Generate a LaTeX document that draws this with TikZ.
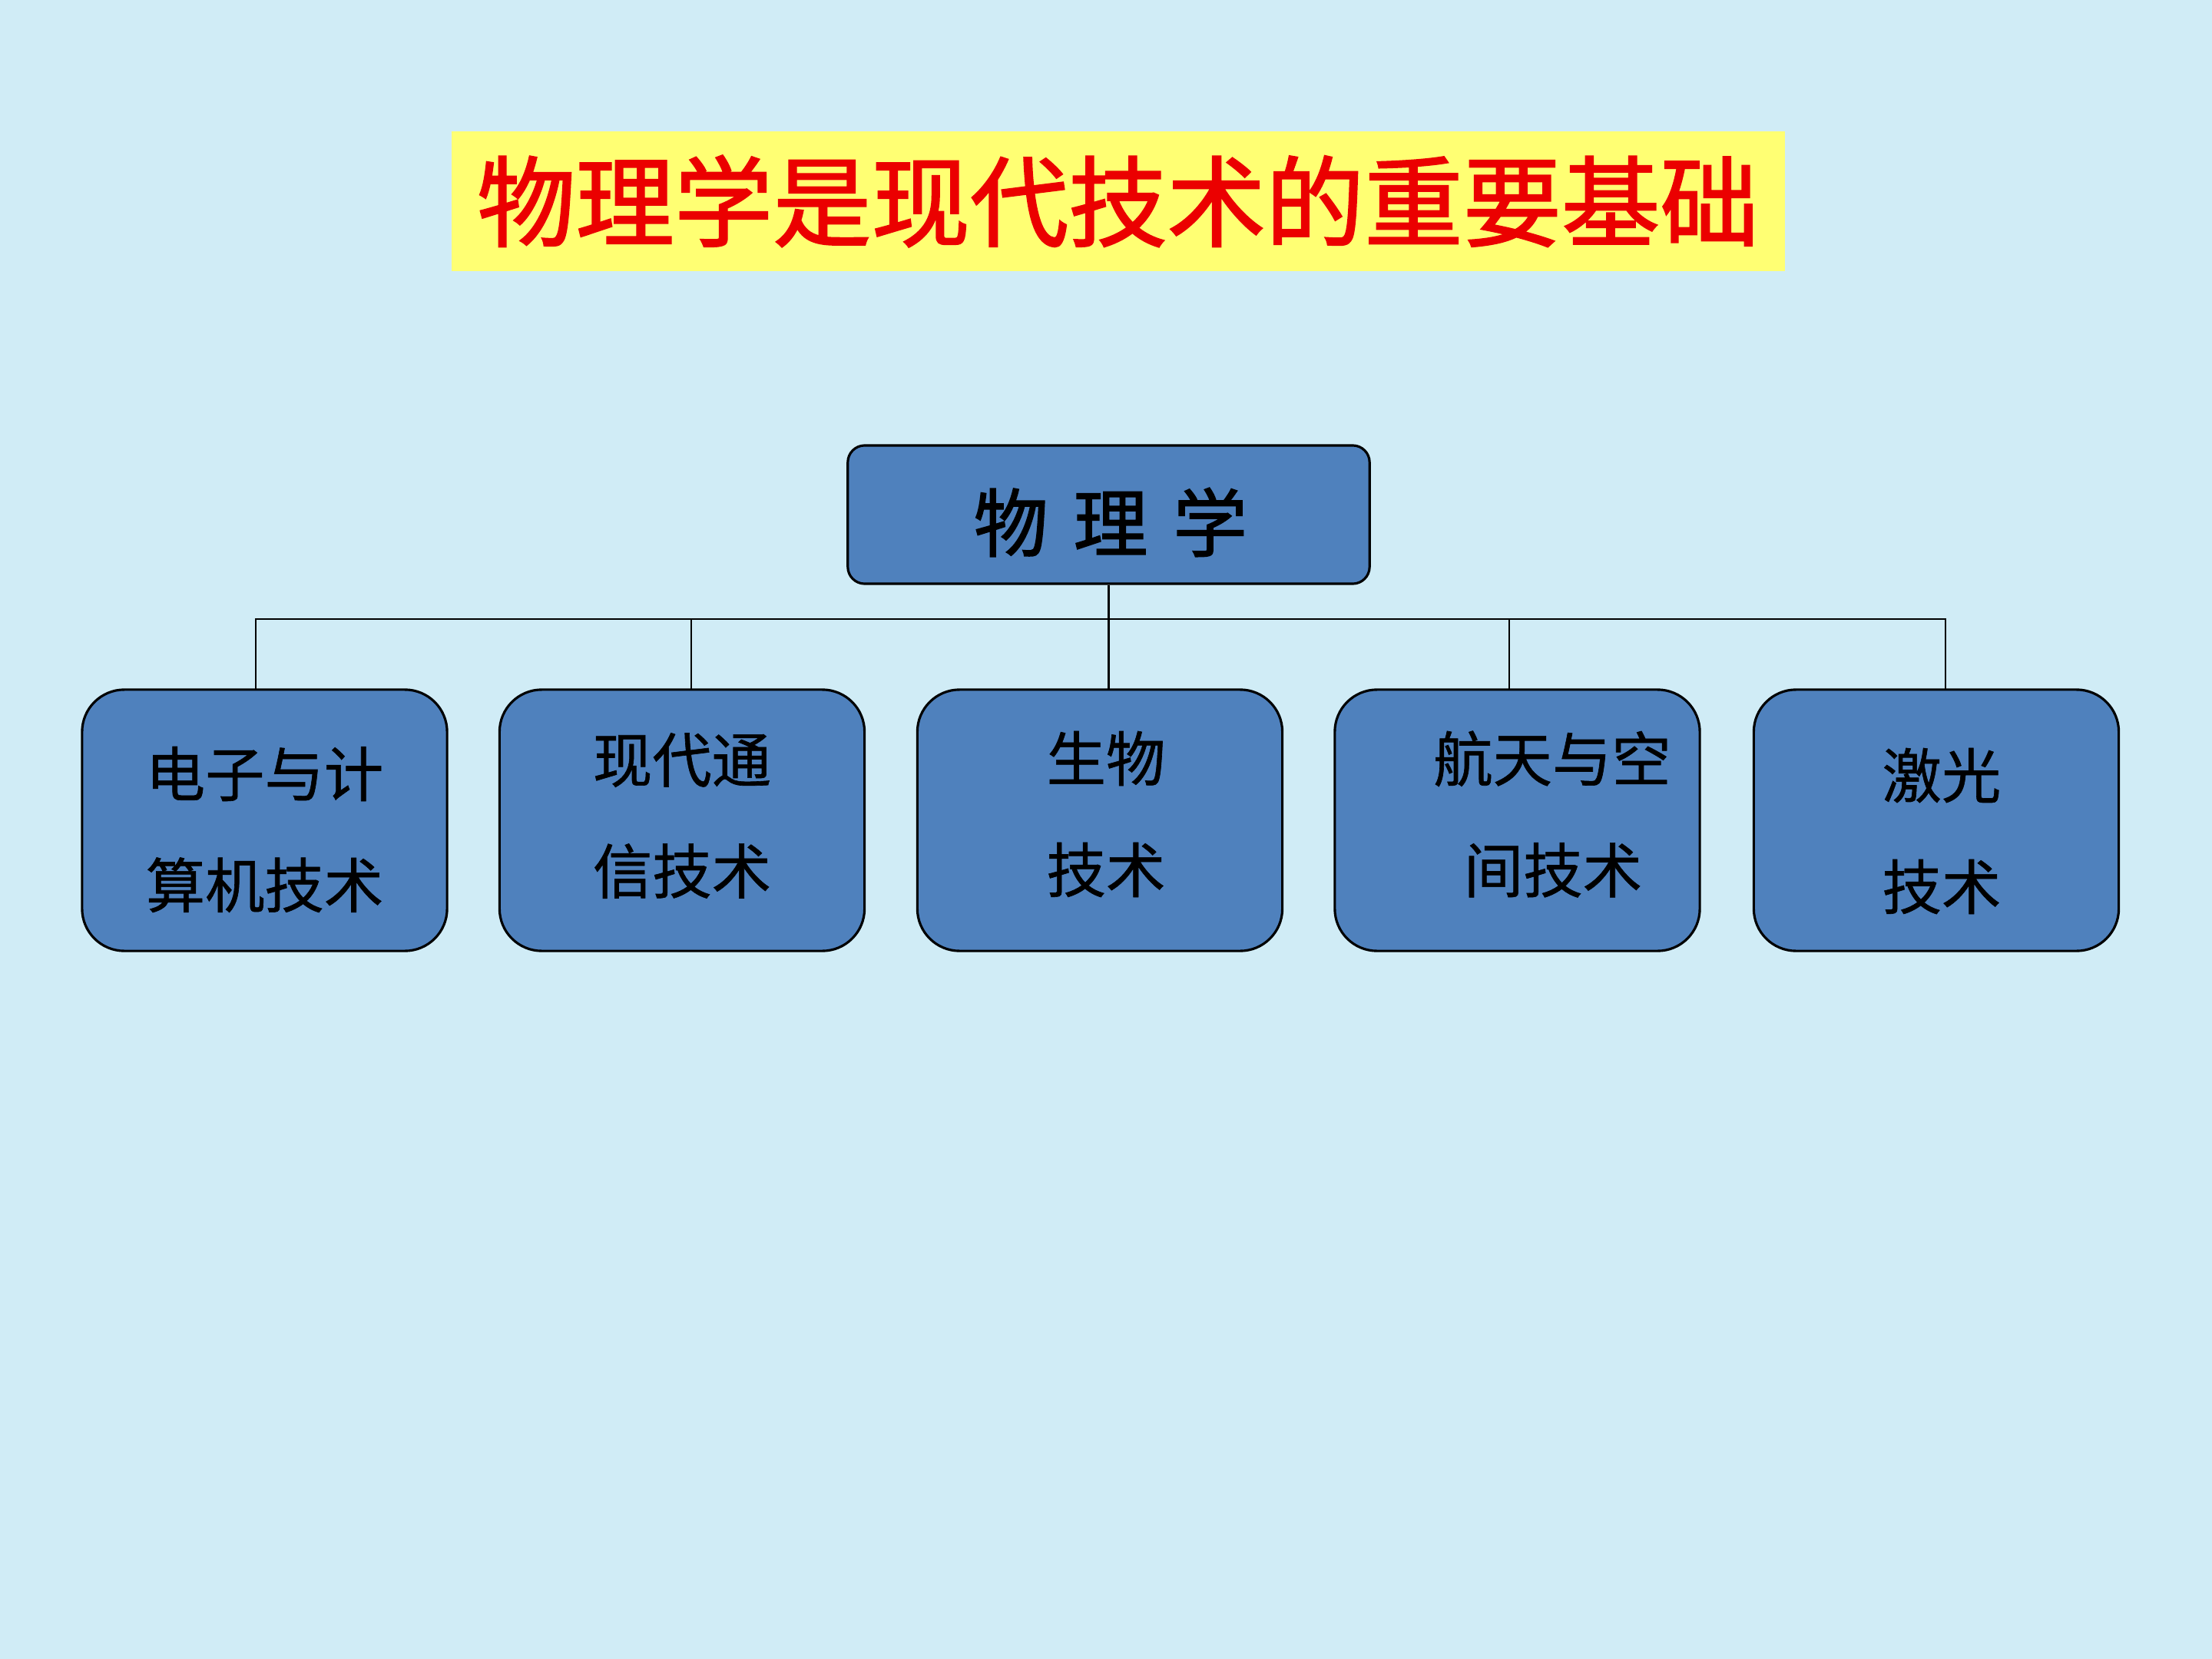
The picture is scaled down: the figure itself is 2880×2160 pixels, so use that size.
\documentclass[tikz,border=0pt]{standalone}
\usepackage{fontspec}
\newfontfamily\cjk{Noto Sans CJK SC}
\newfontfamily\cjkfb[FakeBold=1.6]{Noto Sans CJK SC}
\newfontfamily\cjkmb[FakeBold=0.8]{Noto Sans CJK SC}
\definecolor{bgblue}{RGB}{208,236,246}
\definecolor{boxblue}{RGB}{79,129,189}
\definecolor{titleyellow}{RGB}{255,255,115}
\definecolor{titlered}{RGB}{235,0,0}
\tikzset{
  titlebox/.style={fill=titleyellow, draw=none, minimum width=17.35cm, minimum height=1.82cm, inner sep=0pt,
    font=\cjkfb\fontsize{36.5}{42}\selectfont, text=titlered},
  rootbox/.style={fill=boxblue, draw=black, line width=0.9pt, rounded corners=0.22cm,
    minimum width=6.79cm, minimum height=1.80cm, inner sep=0pt},
  roottext/.style={inner sep=0pt, font=\cjkfb\fontsize{27.5}{32}\selectfont},
  childbox/.style={fill=boxblue, draw=black, line width=0.9pt, rounded corners=0.55cm,
    minimum width=4.75cm, minimum height=3.40cm, inner sep=0pt},
  childtext/.style={inner sep=0pt, align=center, font=\cjkmb\fontsize{22}{41.2}\selectfont},
  conn/.style={draw=black, line width=0.75pt}
}
\begin{document}
\begin{tikzpicture}[x=0.01cm, y=-0.01cm]
\fill[bgblue] (0,0) rectangle (2880,2160);
\useasboundingbox (0,0) rectangle (2880,2160);

\node[titlebox] (title) at (1455.5,262) {物理学是现代技术的重要基础};

\node[rootbox] (root) at (1443.5,670) {};
\node[roottext] (roottxt) at (1446,680) {物\hspace{0.33cm}理\hspace{0.33cm}学};

\node[childbox] (c1) at (344.5,1068) {};
\node[childbox] (c2) at (888,1068) {};
\node[childbox] (c3) at (1432,1068) {};
\node[childbox] (c4) at (1975.5,1068) {};
\node[childbox] (c5) at (2521,1068) {};

\node[childtext] (l1) at (344.5,1080) {电子与计\\算机技术};
\node[childtext] (l2) at (888,1062) {现代通\\信技术};
\node[childtext] (l3) at (1440,1060) {生物\\技术};
\node[childtext] (l4) at (2021,1060) {航天与空\\\hspace*{0.02cm}间技术};
\node[childtext] (l5) at (2528,1082) {激光\\技术};

\coordinate (bus) at (1443.5,806);
\coordinate (t1) at (333,898);
\coordinate (t2) at (900,898);
\coordinate (t3) at (1443.5,898);
\coordinate (t4) at (1965,898);
\coordinate (t5) at (2533,898);

\draw[conn] (root.south) -- (bus);
\foreach \i in {1,...,5} {
  \draw[conn] (bus) -| (t\i);
}
\end{tikzpicture}
\end{document}
